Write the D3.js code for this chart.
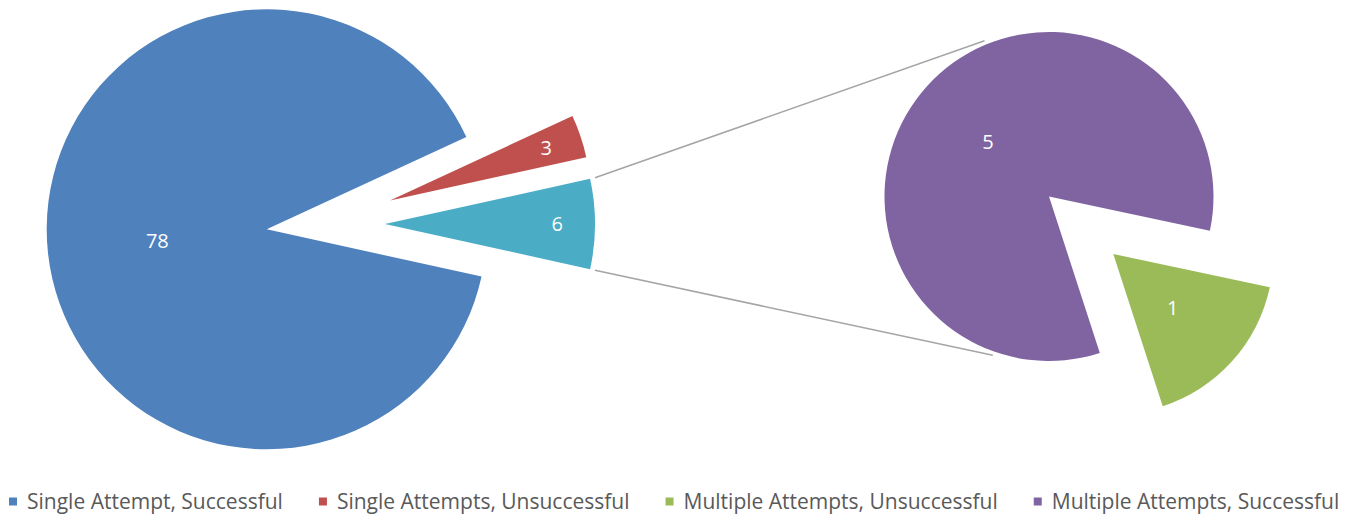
<!DOCTYPE html>
<html><head><meta charset="utf-8">
<script src="https://cdn.jsdelivr.net/npm/d3@7"></script>
<style>html,body{margin:0;padding:0;background:#fff}svg{display:block}</style>
</head><body><svg id="c" width="1356" height="516"></svg>
<script>
// ---- data ----
const categories = ["Single Attempt, Successful", "Single Attempts, Unsuccessful", "Multiple Attempts, Unsuccessful", "Multiple Attempts, Successful"];
const values = [78, 3, 1, 5];
const colors = ["#4F81BD", "#C0504D", "#9BBB59", "#8064A2"];
const secondPlotCount = 2;           // last two categories go into the second pie
const otherName = "Other";
const otherColor = "#4BACC6";

// ---- layout ----
const W = 1356, H = 516;
const deg = Math.PI / 180;
const svg = d3.select("#c");
const mainCenter = [266.7, 229.3];
const secCenter = [1049, 196.5];
// per-slice explosion offsets / radii (layout only)
const mainLayout = { 0: {dx: 0, dy: 0, r: 220}, 1: {dx: 123.3, dy: -28.9, r: 201}, other: {dx: 118.3, dy: -5.3, r: 210} };
const secLayout = { 0: {dx: 64.3, dy: 57.5, r: 160}, 1: {dx: 0, dy: 0, r: 164.5} };
const secStart = 102 * deg;

const nMain = values.length - secondPlotCount;
const mainItems = categories.slice(0, nMain).map((c, i) => ({name: c, value: values[i], color: colors[i], key: i}));
const secItems = categories.slice(nMain).map((c, i) => ({name: c, value: values[nMain + i], color: colors[nMain + i], key: i}));
const otherVal = d3.sum(secItems, d => d.value);
const mainTotal = d3.sum(mainItems, d => d.value) + otherVal;
const mainOrder = [{name: otherName, value: otherVal, color: otherColor, key: "other"}, ...mainItems];
const half = otherVal / mainTotal * Math.PI;
const mainPie = d3.pie().sort(null).value(d => d.value)
  .startAngle(Math.PI / 2 - half).endAngle(Math.PI / 2 - half + 2 * Math.PI);
const secPie = d3.pie().sort(null).value(d => d.value)
  .startAngle(secStart).endAngle(secStart + 2 * Math.PI);

const mainArcs = mainPie(mainOrder).map(a => { const L = mainLayout[a.data.key]; return Object.assign(a, {cx: mainCenter[0] + L.dx, cy: mainCenter[1] + L.dy, r: L.r}); });
const secArcs = secPie(secItems).map(a => { const L = secLayout[a.data.key]; return Object.assign(a, {cx: secCenter[0] + L.dx, cy: secCenter[1] + L.dy, r: L.r}); });

const polar = (cx, cy, r, a) => [cx + r * Math.sin(a), cy - r * Math.cos(a)];

// connector lines
const oth = mainArcs.find(a => a.data.key === "other");
const secR = secLayout[1].r;
const p1 = polar(oth.cx, oth.cy, oth.r + 5, oth.startAngle);
const p2 = polar(oth.cx, oth.cy, oth.r + 5, oth.endAngle);
const q1 = polar(secCenter[0], secCenter[1], secR + 4, -22.5 * deg);
const q2 = polar(secCenter[0], secCenter[1], secR + 4, 199.5 * deg);
svg.append("g").selectAll("line").data([[p1, q1], [p2, q2]]).join("line")
  .attr("x1", d => d[0][0]).attr("y1", d => d[0][1]).attr("x2", d => d[1][0]).attr("y2", d => d[1][1])
  .attr("stroke", "#A5A5A5").attr("stroke-width", 1.5);

function drawPie(arcs) {
  const g = svg.append("g");
  const slice = g.selectAll("g.s").data(arcs).join("g").attr("class", "s")
    .attr("transform", d => `translate(${d.cx},${d.cy})`);
  slice.append("path")
    .attr("d", d => d3.arc().innerRadius(0).outerRadius(d.r)(d))
    .attr("fill", d => d.data.color);
  slice.append("text")
    .attr("transform", d => {
      const span = d.endAngle - d.startAngle;
      const f = span > 45 * deg ? 0.5 : 0.82;
      const m = (d.startAngle + d.endAngle) / 2;
      return `translate(${d.r * f * Math.sin(m)},${-d.r * f * Math.cos(m)})`;
    })
    .attr("text-anchor", "middle").attr("dy", "0.36em")
    .attr("fill", "#fff").attr("font-family", "'Open Sans', sans-serif").attr("font-size", 20)
    .text(d => d.value);
}
drawPie(mainArcs);
drawPie(secArcs);

// legend
const lg = svg.append("g").attr("font-family", "'Open Sans', sans-serif").attr("font-size", 21);
let x = 9;
categories.forEach((c, i) => {
  lg.append("rect").attr("x", x).attr("y", 497.5).attr("width", 8).attr("height", 8).attr("fill", colors[i]);
  const t = lg.append("text").attr("x", x + 18).attr("y", 509).attr("fill", "#595959").text(c);
  x += 18 + t.node().getComputedTextLength() + 36;
});
</script>
</body></html>
